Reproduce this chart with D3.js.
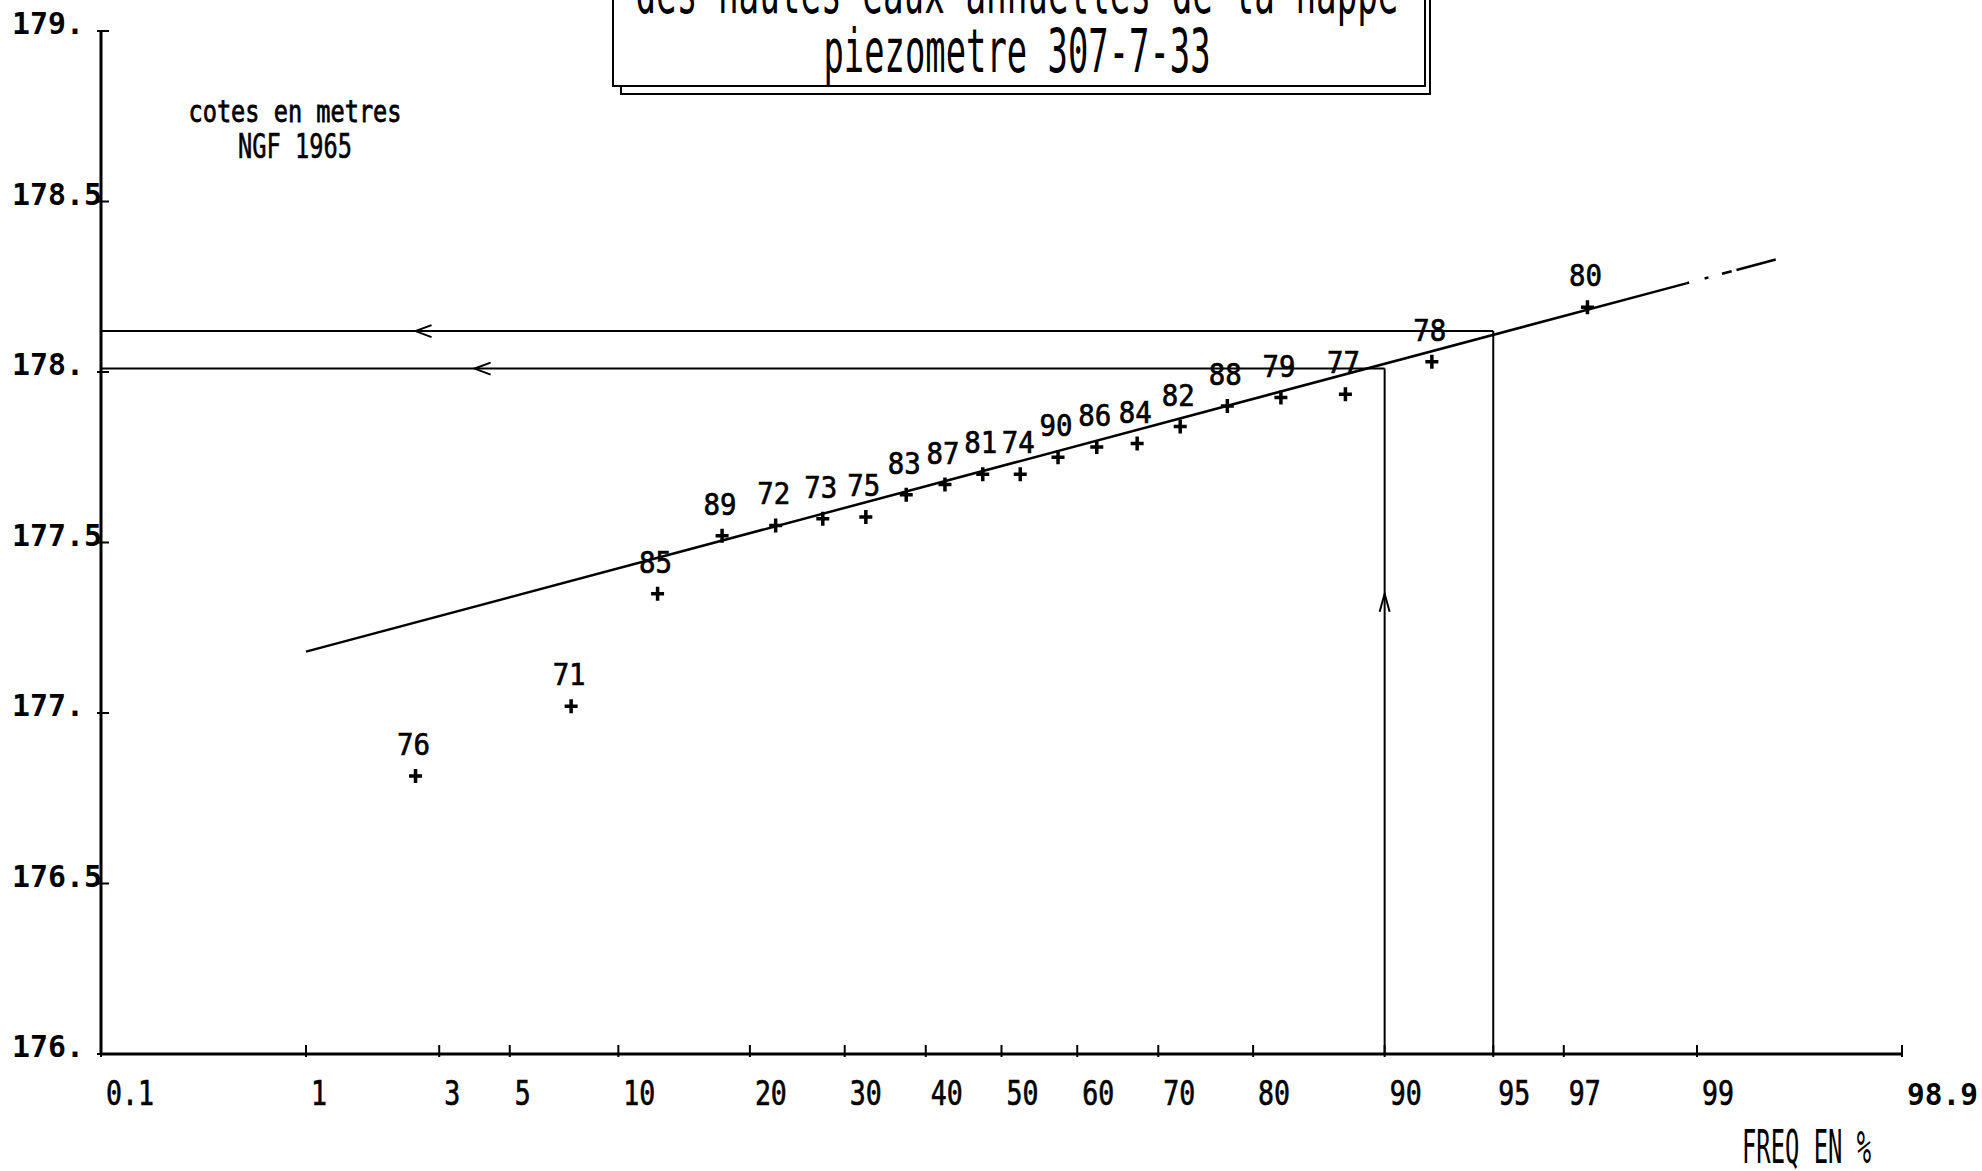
<!DOCTYPE html>
<html><head><meta charset="utf-8">
<script src="https://cdn.jsdelivr.net/npm/d3@7"></script>
<style>body{margin:0;background:#fff}svg{display:block}</style>
</head><body>
<svg id="c" width="1982" height="1171"></svg>
<script>
// ---- data ----
const years  = ["76","71","85","89","72","73","75","83","87","81","74","90","86","84","82","88","79","77","78","80"];
const freqs  = [2.5,7.5,12.5,17.5,22.5,27.5,32.5,37.5,42.5,47.5,52.5,57.5,62.5,67.5,72.5,77.5,82.5,87.5,92.5,97.5];
const levels = [176.815,177.02,177.35,177.52,177.55,177.57,177.575,177.64,177.67,177.70,177.70,177.75,177.78,177.79,177.84,177.90,177.925,177.935,178.03,178.19];
const fitFreqs  = [1, 98.9];
const fitLevels = [177.18, 178.26];
const fitTailFreqs  = [98.9, 99.56];
const fitTailLevels = [178.26, 178.33];
const readFreqs  = [95, 90];
const readLevels = [178.12, 178.01];
const readArrowFreqs = [2.5, 3.9];
const upArrowFreq = 90, upArrowLevel = 177.35;
const xTickValues = [0.1,1,3,5,10,20,30,40,50,60,70,80,90,95,97,99,99.9];
const xTickLabels = ["0.1","1","3","5","10","20","30","40","50","60","70","80","90","95","97","99","98.9"];
const yTickValues = [176,176.5,177,177.5,178,178.5,179];
const yTickLabels = ["176.","176.5","177.","177.5","178.","178.5","179."];
const titleLines = ["des hautes eaux annuelles de la nappe","piezometre 307-7-33"];
const unitLines = ["cotes en metres","NGF 1965"];
const xAxisTitle = "FREQ EN %";

// inverse normal CDF (Acklam)
function probit(p){
  const a=[-3.969683028665376e+01,2.209460984245205e+02,-2.759285104469687e+02,1.383577518672690e+02,-3.066479806614716e+01,2.506628277459239e+00];
  const b=[-5.447609879822406e+01,1.615858368580409e+02,-1.556989798598866e+02,6.680131188771972e+01,-1.328068155288572e+01];
  const c=[-7.784894002430293e-03,-3.223964580411365e-01,-2.400758277161838e+00,-2.549732539343734e+00,4.374664141464968e+00,2.938163982698783e+00];
  const d=[7.784695709041462e-03,3.224671290700398e-01,2.445134137142996e+00,3.754408661907416e+00];
  const pl=0.02425, ph=1-pl; let q,r;
  if(p<pl){q=Math.sqrt(-2*Math.log(p));return (((((c[0]*q+c[1])*q+c[2])*q+c[3])*q+c[4])*q+c[5])/((((d[0]*q+d[1])*q+d[2])*q+d[3])*q+1);}
  if(p>ph){q=Math.sqrt(-2*Math.log(1-p));return -(((((c[0]*q+c[1])*q+c[2])*q+c[3])*q+c[4])*q+c[5])/((((d[0]*q+d[1])*q+d[2])*q+d[3])*q+1);}
  q=p-0.5;r=q*q;return (((((a[0]*r+a[1])*r+a[2])*r+a[3])*r+a[4])*r+a[5])*q/(((((b[0]*r+b[1])*r+b[2])*r+b[3])*r+b[4])*r+1);
}

const svg = d3.select("#c");
const zScale = d3.scaleLinear()
  .domain([probit(0.001), probit(0.01), probit(0.99), probit(0.999)])
  .range([101, 306, 1697, 1902]);
const x = f => zScale(probit(f/100));
const y = d3.scaleLinear().domain([176,179]).range([1054,31]);

const ink = "#000";
const plotFont = "'DejaVu Sans Mono', monospace";

// ---- title box ----
svg.append("path").attr("d","M613,-5V86H1425V-5").attr("fill","none").attr("stroke",ink).attr("stroke-width",2);
svg.append("path").attr("d","M621,86V94H1430V-5").attr("fill","none").attr("stroke",ink).attr("stroke-width",2);
svg.append("text").text(titleLines[0]).attr("x",1017).attr("y",13).attr("text-anchor","middle")
  .attr("font-family",plotFont).attr("font-size",60).attr("textLength",763).attr("lengthAdjust","spacingAndGlyphs");
svg.append("text").text(titleLines[1]).attr("x",1017).attr("y",72).attr("text-anchor","middle")
  .attr("font-family",plotFont).attr("font-size",60).attr("textLength",387).attr("lengthAdjust","spacingAndGlyphs");

// ---- unit label ----
svg.append("text").text(unitLines[0]).attr("x",295).attr("y",122).attr("text-anchor","middle")
  .attr("font-family",plotFont).attr("font-size",31).attr("stroke",ink).attr("stroke-width",0.8)
  .attr("textLength",213).attr("lengthAdjust","spacingAndGlyphs");
svg.append("text").text(unitLines[1]).attr("x",295).attr("y",158).attr("text-anchor","middle")
  .attr("font-family",plotFont).attr("font-size",33).attr("stroke",ink).attr("stroke-width",0.6)
  .attr("textLength",114).attr("lengthAdjust","spacingAndGlyphs");

// ---- axes ----
const xMin = x(xTickValues[0]), xMax = x(xTickValues[xTickValues.length-1]);
svg.append("line").attr("x1",xMin).attr("x2",xMin).attr("y1",y(179)).attr("y2",y(176)).attr("stroke",ink).attr("stroke-width",3);
svg.append("line").attr("x1",xMin).attr("x2",xMax).attr("y1",y(176)).attr("y2",y(176)).attr("stroke",ink).attr("stroke-width",3);

svg.selectAll(".yt").data(yTickValues).join("line").attr("class","yt")
  .attr("x1",xMin-4).attr("x2",xMin+8).attr("y1",d=>y(d)).attr("y2",d=>y(d)).attr("stroke",ink).attr("stroke-width",2);
svg.selectAll(".yl").data(yTickValues).join("text").attr("class","yl")
  .attr("x",12).attr("y",d=>y(d)+3).text((d,i)=>yTickLabels[i])
  .attr("font-family",plotFont).attr("font-weight","bold").attr("font-size",30)
  .attr("textLength",(d,i)=>yTickLabels[i].length*18).attr("lengthAdjust","spacingAndGlyphs");

svg.selectAll(".xt").data(xTickValues).join("line").attr("class","xt")
  .attr("x1",d=>x(d)).attr("x2",d=>x(d)).attr("y1",y(176)-9).attr("y2",y(176)+3).attr("stroke",ink).attr("stroke-width",2);
const lastX = xTickValues.length-1;
svg.selectAll(".xl").data(xTickValues).join("text").attr("class","xl")
  .attr("x",d=>x(d)+5).attr("y",1105).text((d,i)=>xTickLabels[i])
  .attr("font-family",plotFont)
  .attr("font-weight",(d,i)=> i===lastX ? "bold" : "normal")
  .attr("stroke",ink).attr("stroke-width",(d,i)=> i===lastX ? 0 : 0.7)
  .attr("font-size",(d,i)=> i===lastX ? 30 : 34)
  .attr("textLength",(d,i)=> i===lastX ? 71 : xTickLabels[i].length*16)
  .attr("lengthAdjust","spacingAndGlyphs");

svg.append("text").text(xAxisTitle).attr("x",1742).attr("y",1163)
  .attr("font-family",plotFont).attr("font-size",46).attr("textLength",129).attr("lengthAdjust","spacingAndGlyphs");

// ---- reading lines (return levels) ----
readFreqs.forEach((f,i)=>{
  const px = x(f), py = y(readLevels[i]);
  svg.append("path").attr("d",`M${xMin},${py}H${px}`).attr("stroke",ink).attr("stroke-width",2).attr("fill","none");
  svg.append("path").attr("d",`M${px},${y(176)}V${py}`).attr("stroke",ink).attr("stroke-width",2).attr("fill","none");
  const ax = x(readArrowFreqs[i]);
  svg.append("path").attr("d",`M${ax+16},${py-6}L${ax},${py}L${ax+16},${py+6}`).attr("stroke",ink).attr("stroke-width",2).attr("fill","none");
});
{
  const px = x(upArrowFreq), py = y(upArrowLevel);
  svg.append("path").attr("d",`M${px-5},${py+18}L${px},${py}L${px+5},${py+18}`).attr("stroke",ink).attr("stroke-width",2).attr("fill","none");
}

// ---- fitted line ----
const line = d3.line().x(d=>x(d[0])).y(d=>y(d[1]));
svg.append("path").datum(d3.zip(fitFreqs,fitLevels)).attr("d",line).attr("fill","none").attr("stroke",ink).attr("stroke-width",2.5);
svg.append("path").datum(d3.zip(fitTailFreqs,fitTailLevels)).attr("d",line).attr("fill","none").attr("stroke",ink).attr("stroke-width",2.5)
  .attr("stroke-dasharray","3,16,4,14,10,5,60");

// ---- points ----
const pts = d3.zip(freqs, levels, years);
svg.selectAll(".pt").data(pts).join("path").attr("class","pt")
  .attr("d",d=>{const px=x(d[0]),py=y(d[1]);return `M${px-6.5},${py}H${px+6.5}M${px},${py-7}V${py+7}`;})
  .attr("stroke",ink).attr("stroke-width",3.5).attr("fill","none");
svg.selectAll(".lb").data(pts).join("text").attr("class","lb")
  .attr("x",d=>x(d[0])-2).attr("y",d=>y(d[1])-21).attr("text-anchor","middle").text(d=>d[2])
  .attr("font-family",plotFont).attr("font-size",31).attr("stroke",ink).attr("stroke-width",0.7)
  .attr("textLength",33).attr("lengthAdjust","spacingAndGlyphs");
</script>
</body></html>
